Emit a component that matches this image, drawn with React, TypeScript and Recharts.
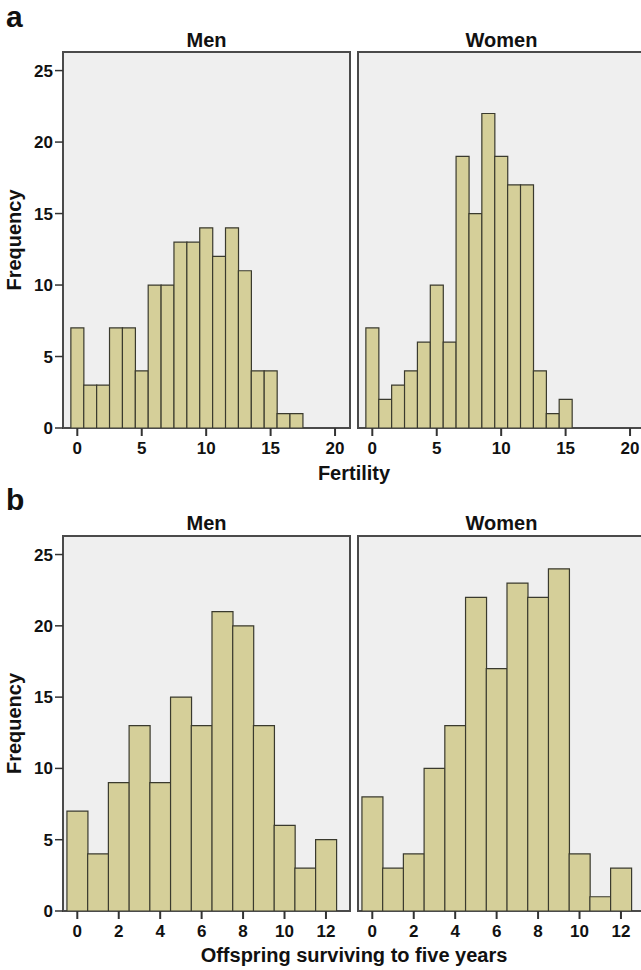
import React from 'react';
import { BarChart, Bar, XAxis, YAxis, CartesianGrid, ReferenceArea } from 'recharts';

const FONT = '"Liberation Sans", Arial, Helvetica, sans-serif';

// Panel a: Fertility
const fertilityMenBins = [0, 1, 2, 3, 4, 5, 6, 7, 8, 9, 10, 11, 12, 13, 14, 15, 16, 17];
const fertilityMenFreq = [7, 3, 3, 7, 7, 4, 10, 10, 13, 13, 14, 12, 14, 11, 4, 4, 1, 1];
const fertilityWomenBins = [0, 1, 2, 3, 4, 5, 6, 7, 8, 9, 10, 11, 12, 13, 14, 15];
const fertilityWomenFreq = [7, 2, 3, 4, 6, 10, 6, 19, 15, 22, 19, 17, 17, 4, 1, 2];
const fertilityTicks = [0, 5, 10, 15, 20];

// Panel b: Offspring surviving to five years
const offspringBins = [0, 1, 2, 3, 4, 5, 6, 7, 8, 9, 10, 11, 12];
const offspringMenFreq = [7, 4, 9, 13, 9, 15, 13, 21, 20, 13, 6, 3, 5];
const offspringWomenFreq = [8, 3, 4, 10, 13, 22, 17, 23, 22, 24, 4, 1, 3];
const offspringTicks = [0, 2, 4, 6, 8, 10, 12];

const frequencyTicks = [0, 5, 10, 15, 20, 25];

const Y_MAX = 26.3;
const FERT_DOMAIN: [number, number] = [-1.11, 21.16];
const OFFS_DOMAIN: [number, number] = [-0.69, 13.16];

const BAR_FILL = '#d5cf99';
const BAR_STROKE = '#3a3a2e';
const FRAME = '#4a4a4a';
const TEXT = '#111111';

type PanelProps = {
  bins: number[];
  freqs: number[];
  xDomain: [number, number];
  xTicks: number[];
  showYAxis: boolean;
  width: number;
  height: number;
  marginLeft: number;
};

function Panel({ bins, freqs, xDomain, xTicks, showYAxis, width, height, marginLeft }: PanelProps) {
  const data = bins.map((x, i) => ({ x, freq: freqs[i] }));
  return (
    <BarChart
      width={width}
      height={height}
      data={data}
      margin={{ top: 52, right: 10, bottom: 0, left: marginLeft }}
      barCategoryGap={0}
      barGap={0}
    >
      <CartesianGrid horizontal={false} vertical={false} fill="#efefef" />
      <XAxis
        type="number"
        dataKey="x"
        domain={xDomain}
        ticks={xTicks}
        allowDataOverflow
        interval={0}
        height={32}
        axisLine={false}
        tickSize={8}
        tickMargin={6}
        tickLine={{ stroke: '#333', strokeWidth: 2 }}
        tick={{ fill: TEXT, fontSize: 17, fontWeight: 700, fontFamily: FONT }}
      />
      <YAxis
        type="number"
        domain={[0, Y_MAX]}
        ticks={frequencyTicks}
        allowDataOverflow
        interval={0}
        hide={!showYAxis}
        width={63}
        axisLine={false}
        tickSize={8}
        tickMargin={2}
        tickLine={{ stroke: '#333', strokeWidth: 1.5 }}
        tick={{ fill: TEXT, fontSize: 17, fontWeight: 700, fontFamily: FONT }}
      />
      <Bar dataKey="freq" fill={BAR_FILL} stroke={BAR_STROKE} strokeWidth={1.2} isAnimationActive={false} />
      <ReferenceArea
        x1={xDomain[0]}
        x2={xDomain[1]}
        y1={0}
        y2={Y_MAX}
        fill="none"
        fillOpacity={0}
        stroke={FRAME}
        strokeWidth={2}
        ifOverflow="visible"
      />
    </BarChart>
  );
}

export default function App() {
  const labelStyle = { fontFamily: FONT, fontWeight: 700, fill: TEXT } as const;
  return (
    <div
      style={{
        position: 'absolute',
        left: 0,
        top: 0,
        width: 641,
        height: 970,
        overflow: 'hidden',
        background: '#ffffff',
      }}
    >
      <div style={{ position: 'absolute', left: 0, top: 0 }}>
        <Panel bins={fertilityMenBins} freqs={fertilityMenFreq} xDomain={FERT_DOMAIN} xTicks={fertilityTicks}
          showYAxis width={360} height={460} marginLeft={0} />
      </div>
      <div style={{ position: 'absolute', left: 340, top: 0 }}>
        <Panel bins={fertilityWomenBins} freqs={fertilityWomenFreq} xDomain={FERT_DOMAIN} xTicks={fertilityTicks}
          showYAxis={false} width={315} height={460} marginLeft={18} />
      </div>
      <div style={{ position: 'absolute', left: 0, top: 484 }}>
        <Panel bins={offspringBins} freqs={offspringMenFreq} xDomain={OFFS_DOMAIN} xTicks={offspringTicks}
          showYAxis width={360} height={459} marginLeft={0} />
      </div>
      <div style={{ position: 'absolute', left: 340, top: 484 }}>
        <Panel bins={offspringBins} freqs={offspringWomenFreq} xDomain={OFFS_DOMAIN} xTicks={offspringTicks}
          showYAxis={false} width={315} height={459} marginLeft={18} />
      </div>
      <svg
        width={641}
        height={970}
        style={{ position: 'absolute', left: 0, top: 0, pointerEvents: 'none' }}
      >
        <text x={6} y={27} fontSize={30} {...labelStyle}>a</text>
        <text x={6} y={510} fontSize={30} {...labelStyle}>b</text>
        <text x={206.5} y={47} fontSize={20} textAnchor="middle" {...labelStyle}>Men</text>
        <text x={501.5} y={47} fontSize={20} textAnchor="middle" {...labelStyle}>Women</text>
        <text x={206.5} y={530} fontSize={20} textAnchor="middle" {...labelStyle}>Men</text>
        <text x={501.5} y={530} fontSize={20} textAnchor="middle" {...labelStyle}>Women</text>
        <text x={21} y={240} fontSize={20} textAnchor="middle" transform="rotate(-90 21 240)" {...labelStyle}>Frequency</text>
        <text x={21} y={723.5} fontSize={20} textAnchor="middle" transform="rotate(-90 21 723.5)" {...labelStyle}>Frequency</text>
        <text x={354} y={480} fontSize={20} textAnchor="middle" {...labelStyle}>Fertility</text>
        <text x={354} y={962} fontSize={20} textAnchor="middle" {...labelStyle}>Offspring surviving to five years</text>
      </svg>
    </div>
  );
}
